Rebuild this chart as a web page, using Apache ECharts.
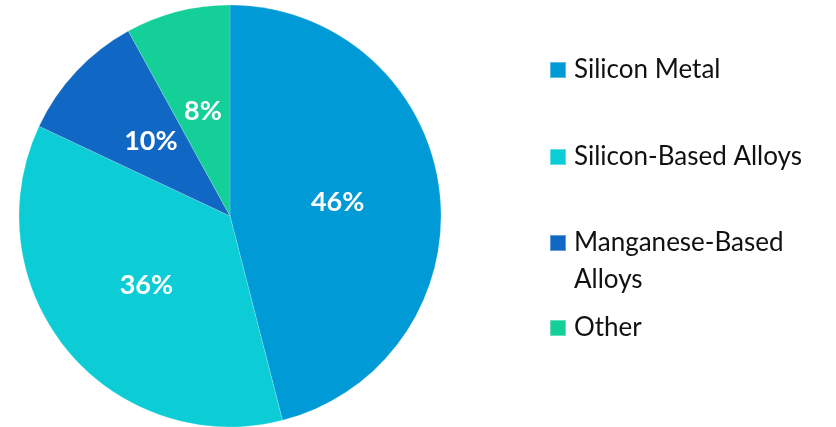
<!DOCTYPE html>
<html><head><meta charset="utf-8">
<script src="https://cdn.jsdelivr.net/npm/echarts@6/dist/echarts.min.js"></script>
<style>html,body{margin:0;padding:0;background:#fff}#c{width:836px;height:427px}</style>
</head><body><div id="c"></div>
<script>
const categories = ['Silicon Metal', 'Silicon-Based Alloys', 'Manganese-Based Alloys', 'Other'];
const legendLabels = ['Silicon Metal', 'Silicon-Based Alloys', '\nManganese-Based\nAlloys', 'Other'];
const values = [46, 36, 10, 8];
const colors = ['#009ad6', '#0ccdd6', '#1168c4', '#14cf98'];
const legendTops = [51.5, 138.5, 187.5, 309.5];

const chart = echarts.init(document.getElementById('c'));
const font = 'Lato, "Open Sans", sans-serif';
chart.setOption({
  animation: false,
  legend: categories.map((name, i) => ({
    data: [name],
    left: 549,
    top: legendTops[i],
    padding: 0,
    orient: 'vertical',
    icon: 'rect',
    itemWidth: 16,
    itemHeight: 16,
    itemGap: 0,
    selectedMode: false,
    formatter: () => legendLabels[i],
    textStyle: { fontFamily: font, fontSize: 26, color: '#111', lineHeight: 37, padding: [0, 0, 0, 3] }
  })),
  series: [{
    type: 'pie',
    center: [230, 216],
    radius: [0, 211],
    startAngle: 90,
    clockwise: true,
    data: categories.map((name, i) => ({ name, value: values[i], itemStyle: { color: colors[i] } })),
    itemStyle: { borderColor: 'rgba(255,255,255,0.35)', borderWidth: 0.5 },
    label: {
      position: 'inside',
      formatter: p => p.value + '%',
      color: '#fff',
      fontFamily: font,
      fontWeight: 'bold',
      fontSize: 27
    },
    labelLine: { show: false },
    emphasis: { disabled: true }
  }]
});
</script></body></html>
